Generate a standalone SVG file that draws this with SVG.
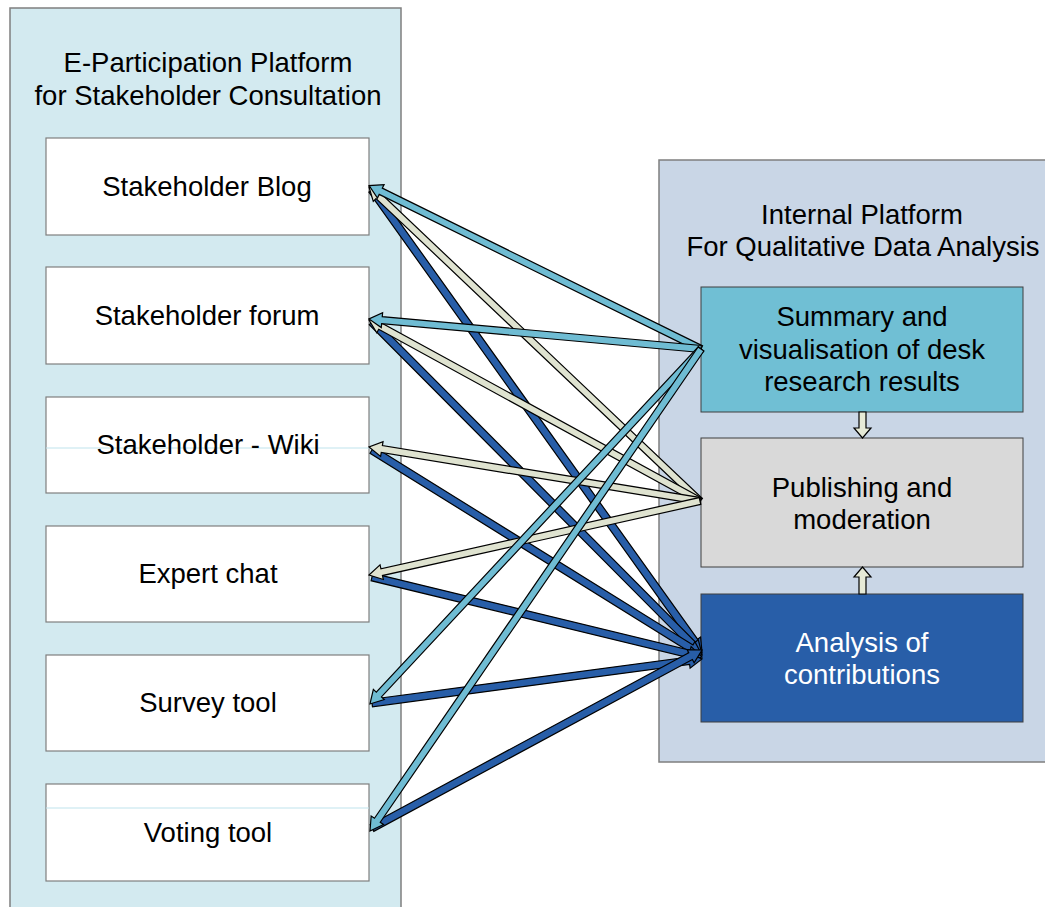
<svg xmlns="http://www.w3.org/2000/svg" width="1045" height="907" viewBox="0 0 1045 907">
<style>
text{font-family:"Liberation Sans",Arial,sans-serif;font-size:27.5px;text-anchor:middle;fill:#000}
.panel{stroke:#7f7f7f;stroke-width:1.5}
.box{fill:#fff;stroke:#7f7f7f;stroke-width:1.2}
.arr{stroke:#000;stroke-width:1.2;stroke-linejoin:miter}
.lb{fill:#6fbcd3}
.bg{fill:#dfe3d0}
.db{fill:#285ea8}
.faint{stroke:#bfe3ec;stroke-width:1}
</style>
<rect width="1045" height="907" fill="#fff"/>
<g id="left-panel">
<rect class="panel" x="10" y="8" width="391" height="910" fill="#d3eaf0"/>
<text x="208" y="72">E-Participation Platform</text>
<text x="208" y="105">for Stakeholder Consultation</text>
</g>
<g id="right-panel">
<rect class="panel" x="659" y="160" width="400" height="602" fill="#c9d6e6"/>
<text x="862" y="224">Internal Platform</text>
<text x="863" y="256">For Qualitative Data Analysis</text>
</g>
<g id="blog"><rect class="box" x="46" y="138" width="323" height="97"/><text x="207" y="196">Stakeholder Blog</text></g>
<g id="forum"><rect class="box" x="46" y="267" width="323" height="97"/><text x="207" y="325">Stakeholder forum</text></g>
<g id="wiki"><rect class="box" x="46" y="397" width="323" height="96"/><line class="faint" x1="46" y1="448" x2="369" y2="448"/><text x="208" y="454">Stakeholder - Wiki</text></g>
<g id="expert"><rect class="box" x="46" y="526" width="323" height="96"/><text x="208" y="583">Expert chat</text></g>
<g id="survey"><rect class="box" x="46" y="655" width="323" height="96"/><text x="208" y="712">Survey tool</text></g>
<g id="voting"><rect class="box" x="46" y="784" width="323" height="97"/><line class="faint" x1="46" y1="808" x2="369" y2="808"/><text x="208" y="842">Voting tool</text></g>
<g id="summary"><rect x="701" y="287" width="322" height="125" fill="#70bfd4" stroke="#3f3f3f" stroke-width="1"/>
<text x="862" y="326">Summary and</text><text x="862" y="359">visualisation of desk</text><text x="862" y="391">research results</text></g>
<g id="publishing"><rect x="701" y="438" width="322" height="129" fill="#d9d9d9" stroke="#3f3f3f" stroke-width="1"/>
<text x="862" y="497">Publishing and</text><text x="862" y="529">moderation</text></g>
<g id="analysis"><rect x="701" y="594" width="322" height="128" fill="#285ea8" stroke="#3f3f3f" stroke-width="1"/>
<text x="862" y="652" style="fill:#fff">Analysis of</text><text x="862" y="684" style="fill:#fff">contributions</text></g>
<g id="connectors">
<path class="arr db" transform="translate(372,190) rotate(54.46)" d="M0,-3.8 H554.75 V-7.5 L567.75,0 L554.75,7.5 V3.8 H0 Z"/>
<path class="arr db" transform="translate(372,322) rotate(45.17)" d="M0,-3.8 H455.1 V-7.5 L468.1,0 L455.1,7.5 V3.8 H0 Z"/>
<path class="arr db" transform="translate(372,450) rotate(31.85)" d="M0,-3.8 H375.49 V-7.5 L388.49,0 L375.49,7.5 V3.8 H0 Z"/>
<path class="arr db" transform="translate(372,577) rotate(13.63)" d="M0,-3.8 H326.56 V-7.5 L339.56,0 L326.56,7.5 V3.8 H0 Z"/>
<path class="arr db" transform="translate(372,703) rotate(-7.59)" d="M0,-3.8 H319.92 V-7.5 L332.92,0 L319.92,7.5 V3.8 H0 Z"/>
<path class="arr db" transform="translate(372,828) rotate(-28.34)" d="M0,-3.8 H361.95 V-7.5 L374.95,0 L361.95,7.5 V3.8 H0 Z"/>
<path class="arr bg" transform="translate(700,501) rotate(223.49)" d="M0,-3.5 H443.24 V-7.5 L456.24,0 L443.24,7.5 V3.5 H0 Z"/>
<path class="arr bg" transform="translate(700,501) rotate(208.67)" d="M0,-3.5 H364.26 V-7.5 L377.26,0 L364.26,7.5 V3.5 H0 Z"/>
<path class="arr bg" transform="translate(700,501) rotate(189.27)" d="M0,-3.5 H322.38 V-7.5 L335.38,0 L322.38,7.5 V3.5 H0 Z"/>
<path class="arr bg" transform="translate(700,501) rotate(167.40)" d="M0,-3.5 H326.17 V-7.5 L339.17,0 L326.17,7.5 V3.5 H0 Z"/>
<path class="arr lb" transform="translate(701,349) rotate(206.22)" d="M0,-3.5 H356.96 V-7.5 L369.96,0 L356.96,7.5 V3.5 H0 Z"/>
<path class="arr lb" transform="translate(701,349) rotate(185.18)" d="M0,-3.5 H320.36 V-7.5 L333.36,0 L320.36,7.5 V3.5 H0 Z"/>
<path class="arr lb" transform="translate(701,349) rotate(133.0)" d="M0,-3.5 H472.37 V-7.5 L485.37,0 L472.37,7.5 V3.5 H0 Z"/>
<path class="arr lb" transform="translate(701,349) rotate(124.48)" d="M0,-3.5 H571.7 V-7.5 L584.7,0 L571.7,7.5 V3.5 H0 Z"/>
<path class="arr" fill="#e6ead6" d="M859,412 H866 V428 H871 L862.5,438 L854,428 H859 Z"/>
<path class="arr" fill="#e6ead6" d="M859,594 H866 V577 H871 L862.5,567 L854,577 H859 Z"/>
</g>
</svg>
